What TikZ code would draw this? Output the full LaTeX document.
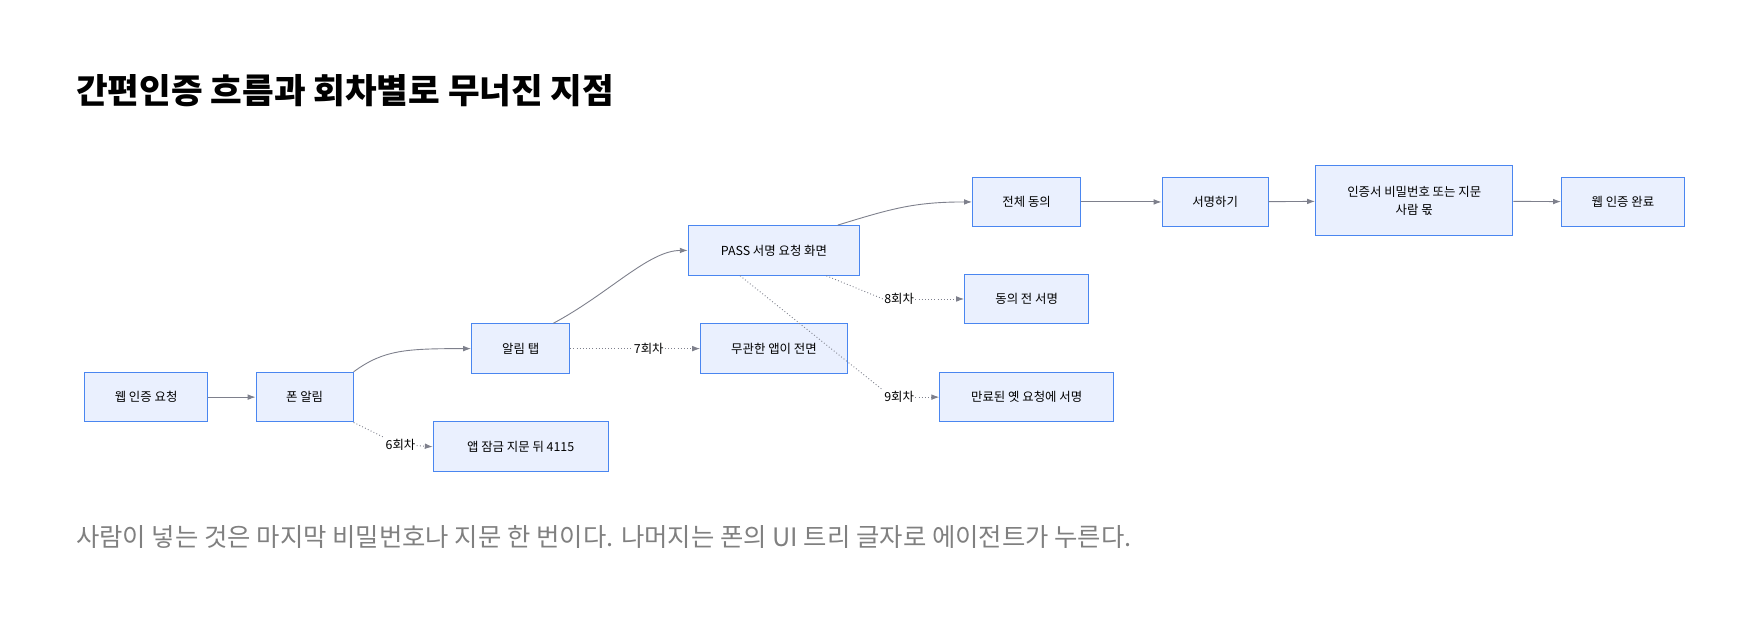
\documentclass[tikz,border=0pt]{standalone}
\usepackage{fontspec}
\setmainfont{Noto Sans CJK KR}
\usetikzlibrary{arrows.meta}
\definecolor{nfill}{HTML}{EAF0FE}
\definecolor{nline}{HTML}{4A86F0}
\definecolor{eline}{HTML}{7E808C}
\begin{document}
\begin{tikzpicture}[x=1pt,y=-1pt,
  box/.style={draw=nline,fill=nfill,line width=0.9pt,inner sep=0pt,font=\fontsize{11}{16}\selectfont,align=center},
  e/.style={draw=eline,line width=0.8pt,-{Latex[length=7pt,width=5pt]}},
  d/.style={e,dotted},
  lab/.style={fill=white,inner sep=1pt,font=\fontsize{11}{13}\selectfont}]
\useasboundingbox (0,0) rectangle (1560,548);
\node[anchor=west,font=\bfseries\fontsize{30.5}{36}\selectfont] (title) at (64,80) {간편인증 흐름과 회차별로 무너진 지점};
\node[anchor=west,text=gray,font=\fontsize{22.5}{28}\selectfont] (foot) at (64,476) {사람이 넣는 것은 마지막 비밀번호나 지문 한 번이다. 나머지는 폰의 UI 트리 글자로 에이전트가 누른다.};
\newcommand\bx[6]{\node[box,minimum width=#4-#2,minimum height=#5-#3] (#1) at ({(#2+#4)/2},{(#3+#5)/2}) {#6};}
\bx{a}{75}{330}{184}{374}{웹 인증 요청}
\bx{b}{227}{330}{313}{374}{폰 알림}
\bx{c}{418}{287}{505}{331}{알림 탭}
\bx{p}{610}{200}{762}{244}{PASS 서명 요청 화면}
\bx{m}{621}{287}{751}{331}{무관한 앱이 전면}
\bx{l}{384}{374}{539}{418}{앱 잠금 지문 뒤 4115}
\bx{g}{862}{157}{958}{201}{전체 동의}
\bx{s}{1030}{157}{1124}{201}{서명하기}
\bx{h}{1166}{147}{1341}{209}{인증서 비밀번호 또는 지문\\사람 몫}
\bx{w}{1384}{157}{1493}{201}{웹 인증 완료}
\bx{q}{855}{243}{965}{287}{동의 전 서명}
\bx{x}{833}{330}{987}{374}{만료된 옛 요청에 서명}
\draw[e] (a) -- (b);
\draw[e] (b.north east) .. controls (340,310) and (360,309) .. (c.west);
\draw[e] (c.north east) ++(-15,0) coordinate (c1) .. controls (540,260) and (575,222) .. (p.west);
\draw[e] (p.north east) ++(-20,0) coordinate (p1) .. controls (790,185) and (810,179) .. (g.west);
\draw[e] (g) -- (s);
\draw[e] (s) -- (h);
\draw[e] (h) -- (w);
\node[lab] (l6) at (355,394) {6회차};
\node[lab] (l7) at (575,309) {7회차};
\node[lab] (l8) at (797,265) {8회차};
\node[lab] (l9) at (797,352) {9회차};
\draw[draw=eline,dotted,line width=0.8pt] (b.south east) -- (l6.north west);
\draw[d] (l6) -- (l.west);
\draw[draw=eline,dotted,line width=0.8pt] (c.east) -- (l7);
\draw[d] (l7) -- (m.west);
\draw[draw=eline,dotted,line width=0.8pt] (p.south east) ++(-30,0) coordinate (p2) -- (l8.west);
\draw[d] (l8) -- (q.west);
\draw[draw=eline,dotted,line width=0.8pt] (p.south) ++(-30,0) coordinate (p3) -- (l9.north west);
\draw[d] (l9) -- (x.west);
\end{tikzpicture}
\end{document}
